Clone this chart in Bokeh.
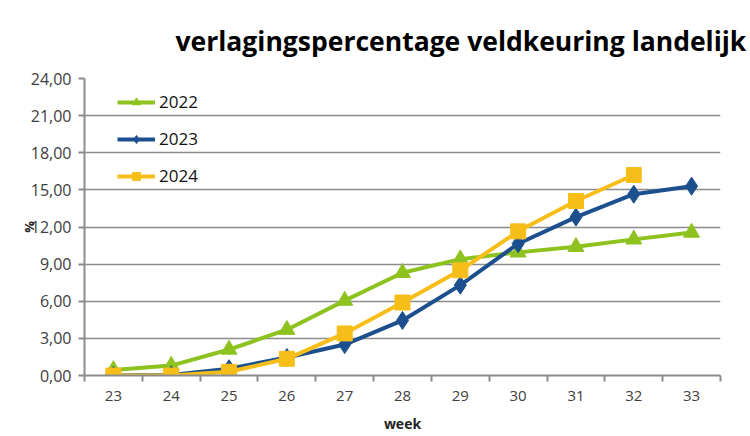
from bokeh.plotting import figure
from bokeh.models import FixedTicker, Range1d, Title, Legend, LegendItem
from bokeh.embed import file_html
from bokeh.resources import INLINE

weeks = [23, 24, 25, 26, 27, 28, 29, 30, 31, 32, 33]
pct_2022 = [0.45, 0.8, 2.1, 3.7, 6.05, 8.3, 9.4, 9.95, 10.4, 11.0, 11.55]
pct_2023 = [0.0, 0.05, 0.55, 1.45, 2.5, 4.45, 7.3, 10.65, 12.8, 14.65, 15.3]
weeks_2024 = [23, 24, 25, 26, 27, 28, 29, 30, 31, 32]
pct_2024 = [0.0, 0.0, 0.3, 1.35, 3.4, 5.9, 8.5, 11.65, 14.1, 16.2]
y_ticks = [0, 3, 6, 9, 12, 15, 18, 21, 24]
y_tick_labels = ["0,00", "3,00", "6,00", "9,00", "12,00", "15,00", "18,00", "21,00", "24,00"]

C22 = "#8DC21F"
C23 = "#1B4F8E"
C24 = "#F7BE1A"
GRID = "#8C8C8C"
TXT = "#404040"

p = figure(width=750, height=436, output_backend="svg", toolbar_location=None,
           x_range=Range1d(22.5, 33.5), y_range=Range1d(0, 24),
           min_border_left=84, min_border_right=30, min_border_bottom=61, min_border_top=78)
p.outline_line_color = None
p.background_fill_color = "white"

t = Title(text="verlagingspercentage veldkeuring landelijk", align="left", offset=91,
          text_font="Open Sans", text_font_size="26.5px", text_font_style="bold",
          text_color="#000000", standoff=40)
p.add_layout(t, "above")

# axes
p.xaxis.ticker = FixedTicker(ticks=weeks, minor_ticks=[w - 0.5 for w in weeks] + [33.5])
p.xaxis.major_tick_line_color = None
p.xaxis.minor_tick_line_color = GRID
p.xaxis.minor_tick_line_width = 2
p.xaxis.minor_tick_out = 6
p.xaxis.minor_tick_in = 0
p.xaxis.axis_line_color = GRID
p.xaxis.axis_line_width = 2
p.xaxis.major_label_text_font = "Open Sans"
p.xaxis.major_label_text_font_size = "15px"
p.xaxis.major_label_text_color = TXT
p.xaxis.major_label_standoff = 9
p.xaxis.axis_label = "week"
p.xaxis.axis_label_text_font = "Open Sans"
p.xaxis.axis_label_text_font_style = "bold"
p.xaxis.axis_label_text_font_size = "14px"
p.xaxis.axis_label_text_color = "#222222"
p.xaxis.axis_label_standoff = 10

p.yaxis.ticker = FixedTicker(ticks=y_ticks, minor_ticks=[])
p.yaxis.major_label_overrides = {t_: l for t_, l in zip(y_ticks, y_tick_labels)}
p.yaxis.major_tick_line_color = GRID
p.yaxis.major_tick_line_width = 2
p.yaxis.major_tick_out = 6
p.yaxis.major_tick_in = 0
p.yaxis.axis_line_color = GRID
p.yaxis.axis_line_width = 2
p.yaxis.major_label_text_font = "Open Sans"
p.yaxis.major_label_text_font_size = "16px"
p.yaxis.major_label_text_color = TXT
p.yaxis.major_label_standoff = 7
p.yaxis.axis_label = "%"
p.yaxis.axis_label_text_font = "Open Sans"
p.yaxis.axis_label_text_font_style = "bold"
p.yaxis.axis_label_text_font_size = "13px"
p.yaxis.axis_label_text_color = "#222222"
p.yaxis.axis_label_standoff = -10

p.xgrid.grid_line_color = None
p.ygrid.grid_line_color = GRID
p.ygrid.grid_line_width = 1.5
p.ygrid.ticker = FixedTicker(ticks=y_ticks[1:])

l22 = p.line(weeks, pct_2022, line_color=C22, line_width=4)
m22 = p.scatter(weeks, pct_2022, marker="triangle", size=16, fill_color=C22, line_color=C22)
l23 = p.line(weeks, pct_2023, line_color=C23, line_width=4)
m23 = p.scatter(weeks, pct_2023, marker="diamond", size=18, fill_color=C23, line_color=C23)
l24 = p.line(weeks_2024, pct_2024, line_color=C24, line_width=4)
m24 = p.scatter(weeks_2024, pct_2024, marker="square", size=15, fill_color=C24, line_color=C24)

legend = Legend(items=[LegendItem(label="2022", renderers=[l22, m22]),
                       LegendItem(label="2023", renderers=[l23, m23]),
                       LegendItem(label="2024", renderers=[l24, m24])],
                location=(33, 188), border_line_color=None, background_fill_alpha=0,
                glyph_width=38, glyph_height=20, label_height=20, spacing=14, padding=10,
                label_text_font="Open Sans", label_text_font_size="17px",
                label_text_color="#111111", label_standoff=4)
p.add_layout(legend, "center")

open("out.html", "w").write(file_html(p, INLINE))
